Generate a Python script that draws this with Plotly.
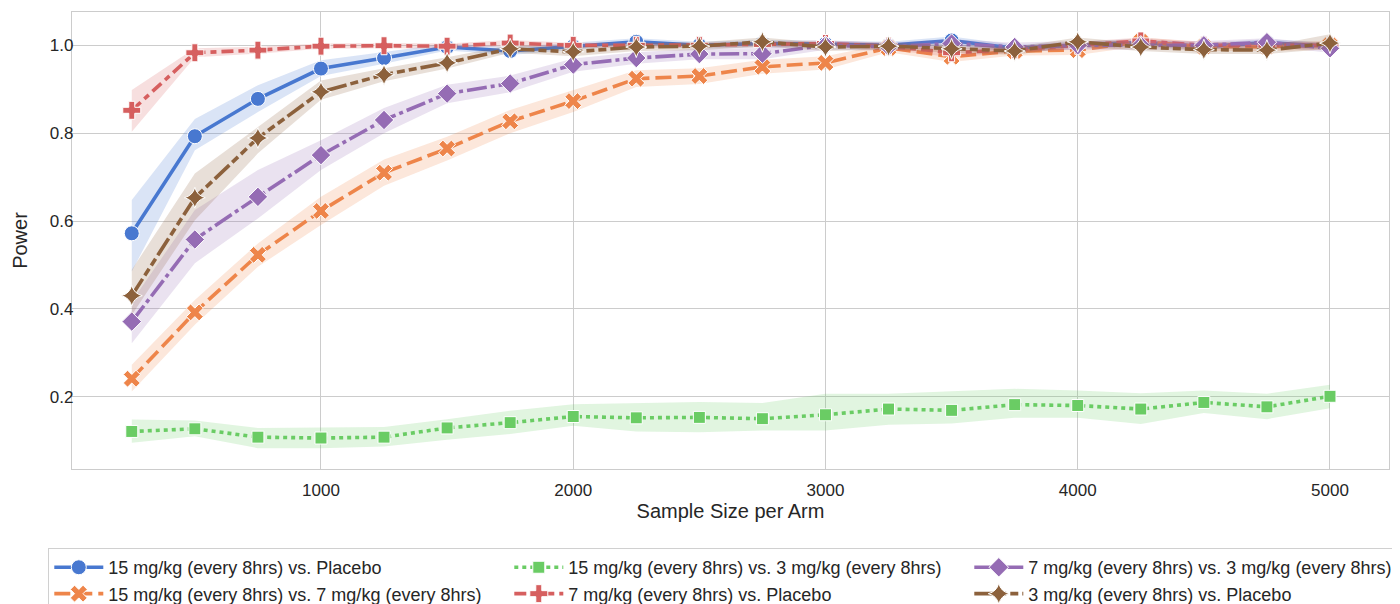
import plotly.graph_objects as go

sizes = [250, 500, 750, 1000, 1250, 1500, 1750, 2000, 2250, 2500,
         2750, 3000, 3250, 3500, 3750, 4000, 4250, 4500, 4750, 5000]

names = [
    "15 mg/kg (every 8hrs) vs. Placebo",
    "15 mg/kg (every 8hrs) vs. 7 mg/kg (every 8hrs)",
    "15 mg/kg (every 8hrs) vs. 3 mg/kg (every 8hrs)",
    "7 mg/kg (every 8hrs) vs. Placebo",
    "7 mg/kg (every 8hrs) vs. 3 mg/kg (every 8hrs)",
    "3 mg/kg (every 8hrs) vs. Placebo",
]

blue = [0.572, 0.793, 0.878, 0.947, 0.971, 0.996, 0.987, 0.998, 1.008, 1.0,
        1.004, 1.003, 1.0, 1.011, 0.993, 1.0, 1.007, 0.997, 1.006, 0.998]
blue_lo = [0.485, 0.761, 0.848, 0.93, 0.958, 0.988, 0.978, 0.99, 1.0, 0.992,
           0.995, 0.995, 0.992, 1.002, 0.985, 0.992, 0.998, 0.99, 0.998, 0.99]
blue_hi = [0.648, 0.832, 0.909, 0.966, 0.985, 1.004, 0.996, 1.006, 1.016, 1.008,
           1.012, 1.011, 1.008, 1.02, 1.001, 1.008, 1.015, 1.005, 1.014, 1.006]

orange = [0.241, 0.392, 0.523, 0.623, 0.71, 0.765, 0.827, 0.873, 0.924, 0.93,
          0.951, 0.96, 0.994, 0.974, 0.987, 0.989, 1.008, 0.997, 0.997, 1.0]
orange_lo = [0.212, 0.364, 0.496, 0.591, 0.68, 0.738, 0.80, 0.848, 0.905, 0.912,
             0.935, 0.945, 0.984, 0.962, 0.977, 0.978, 0.998, 0.987, 0.987, 0.99]
orange_hi = [0.273, 0.42, 0.549, 0.655, 0.74, 0.792, 0.853, 0.898, 0.943, 0.948,
             0.967, 0.975, 1.004, 0.986, 0.997, 1.0, 1.018, 1.007, 1.007, 1.01]

green = [0.121, 0.127, 0.108, 0.106, 0.108, 0.129, 0.141, 0.155, 0.152, 0.153,
         0.150, 0.159, 0.172, 0.169, 0.182, 0.180, 0.172, 0.187, 0.177, 0.201]
green_lo = [0.095, 0.110, 0.083, 0.083, 0.087, 0.102, 0.115, 0.134, 0.121, 0.119,
            0.123, 0.123, 0.136, 0.139, 0.152, 0.152, 0.138, 0.163, 0.149, 0.174]
green_hi = [0.148, 0.146, 0.129, 0.130, 0.131, 0.149, 0.168, 0.183, 0.186, 0.188,
            0.186, 0.207, 0.207, 0.212, 0.218, 0.214, 0.208, 0.214, 0.207, 0.227]

red = [0.852, 0.983, 0.989, 0.998, 0.999, 0.998, 1.005, 1.0, 1.0, 1.0,
       1.002, 1.004, 0.998, 0.983, 0.99, 1.0, 1.01, 1.0, 1.0, 1.0]
red_lo = [0.803, 0.973, 0.981, 0.992, 0.993, 0.992, 0.998, 0.994, 0.994, 0.994,
          0.995, 0.997, 0.99, 0.973, 0.982, 0.992, 1.002, 0.992, 0.992, 0.992]
red_hi = [0.898, 0.993, 0.997, 1.004, 1.005, 1.004, 1.012, 1.006, 1.006, 1.006,
          1.009, 1.011, 1.006, 0.993, 0.998, 1.008, 1.018, 1.008, 1.008, 1.008]

purple = [0.371, 0.558, 0.655, 0.75, 0.83, 0.89, 0.913, 0.956, 0.971, 0.98,
          0.981, 1.0, 0.997, 1.004, 0.996, 1.0, 1.0, 1.0, 1.007, 0.993]
purple_lo = [0.322, 0.504, 0.606, 0.716, 0.80, 0.868, 0.893, 0.94, 0.958, 0.968,
             0.968, 0.99, 0.988, 0.994, 0.986, 0.99, 0.99, 0.99, 0.998, 0.983]
purple_hi = [0.417, 0.625, 0.716, 0.784, 0.857, 0.91, 0.931, 0.97, 0.984, 0.992,
             0.994, 1.01, 1.006, 1.014, 1.006, 1.01, 1.01, 1.01, 1.016, 1.003]

brown = [0.43, 0.653, 0.789, 0.894, 0.933, 0.96, 0.992, 0.985, 0.996, 0.998,
         1.008, 0.996, 0.998, 0.992, 0.987, 1.008, 0.996, 0.99, 0.989, 1.005]
brown_lo = [0.386, 0.602, 0.754, 0.876, 0.918, 0.947, 0.983, 0.975, 0.987, 0.989,
            0.998, 0.987, 0.99, 0.983, 0.978, 0.998, 0.987, 0.98, 0.98, 0.992]
brown_hi = [0.489, 0.708, 0.814, 0.92, 0.948, 0.973, 1.0, 0.995, 1.005, 1.007,
            1.018, 1.005, 1.006, 1.001, 0.996, 1.018, 1.005, 1.0, 0.998, 1.025]

y_ticks = [0.2, 0.4, 0.6, 0.8, 1.0]
x_ticks = [1000, 2000, 3000, 4000, 5000]

series = [
    dict(y=blue, lo=blue_lo, hi=blue_hi, color="#4878D0", rgb="72,120,208",
         dash="solid", symbol="circle", size=15, rank=1),
    dict(y=orange, lo=orange_lo, hi=orange_hi, color="#EE854A", rgb="238,133,74",
         dash="16px,6px", symbol="x", size=15, rank=4),
    dict(y=green, lo=green_lo, hi=green_hi, color="#6ACC64", rgb="106,204,100",
         dash="4px,4px", symbol="square", size=12, rank=2),
    dict(y=red, lo=red_lo, hi=red_hi, color="#D65F5F", rgb="214,95,95",
         dash="12px,5px,6px,5px", symbol="cross", size=15, rank=5),
    dict(y=purple, lo=purple_lo, hi=purple_hi, color="#956CB4", rgb="149,108,180",
         dash="20px,4px,4px,4px", symbol="diamond", size=15, rank=3),
    dict(y=brown, lo=brown_lo, hi=brown_hi, color="#8C613C", rgb="140,97,60",
         dash="20px,4px,8px,4px,8px,4px", symbol="star-diamond", size=15, rank=6),
]

fig = go.Figure()
for name, s in zip(names, series):
    fig.add_trace(go.Scatter(x=sizes, y=s["lo"], mode="lines", line=dict(width=0),
                             showlegend=False, hoverinfo="skip"))
    fig.add_trace(go.Scatter(x=sizes, y=s["hi"], mode="lines", line=dict(width=0),
                             fill="tonexty", fillcolor="rgba(%s,0.2)" % s["rgb"],
                             showlegend=False, hoverinfo="skip"))
    fig.add_trace(go.Scatter(
        x=sizes, y=s["y"], name=name, mode="lines+markers", legendrank=s["rank"],
        line=dict(color=s["color"], width=3.6, dash=s["dash"]),
        marker=dict(symbol=s["symbol"], size=s["size"], color=s["color"],
                    line=dict(color="white", width=1)),
    ))

font = "Liberation Sans, Arial, sans-serif"
# page body adds an 8px offset; figure is sized so the plot lands where the reference has it
fig.update_layout(
    width=1392, height=596,
    margin=dict(l=64, r=11, t=4, b=135, autoexpand=False),
    paper_bgcolor="white", plot_bgcolor="white",
    font=dict(family=font, color="#262626", size=17),
    xaxis=dict(range=[13, 5234], tickvals=x_ticks, showgrid=True,
               gridcolor="#cccccc", gridwidth=1, showline=True, mirror=True,
               linecolor="#cccccc", linewidth=1.25, zeroline=False, ticks="",
               tickfont=dict(size=17), ticklabelstandoff=5,
               title=dict(text="Sample Size per Arm", font=dict(size=20), standoff=2)),
    yaxis=dict(range=[0.0355, 1.0758], tickvals=y_ticks, tickformat=".1f",
               showgrid=True, gridcolor="#cccccc", gridwidth=1, showline=True,
               mirror=True, linecolor="#cccccc", linewidth=1.25, zeroline=False,
               ticks="", tickfont=dict(size=17), ticklabelstandoff=-6,
               title=dict(text="Power", font=dict(size=20), standoff=16)),
    legend=dict(orientation="h", x=-0.018, xanchor="left", y=-0.173, yanchor="top",
                entrywidth=396, entrywidthmode="pixels",
                bordercolor="#d0d0d0", borderwidth=1, bgcolor="white",
                font=dict(size=18, family=font, color="#262626"),
                traceorder="normal", itemwidth=49),
)

fig.write_html("out.html")
